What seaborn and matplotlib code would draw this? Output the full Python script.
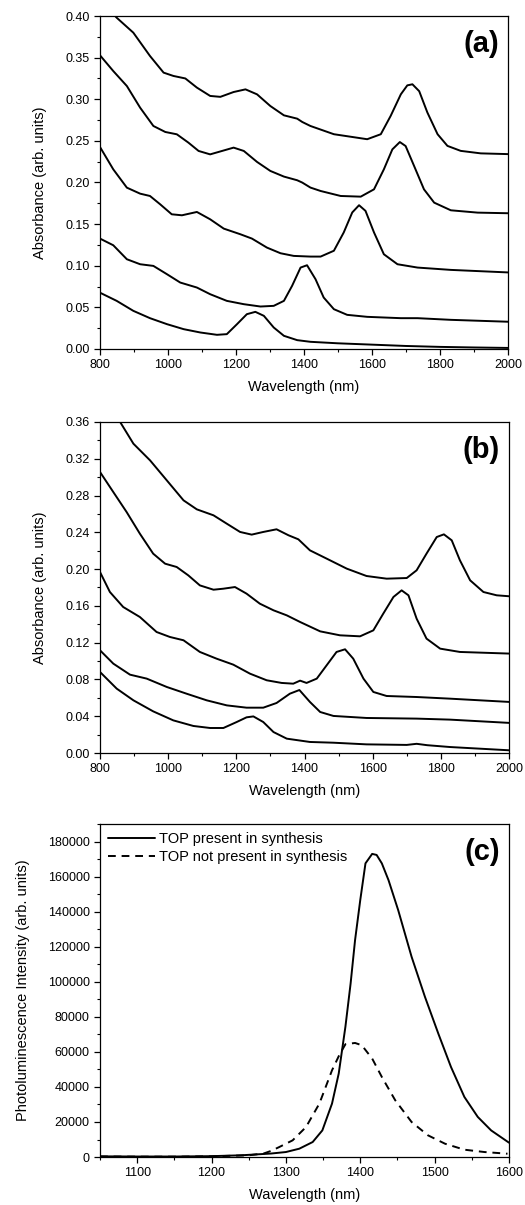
import numpy as np
import pandas as pd
import seaborn as sns
import matplotlib.pyplot as plt
from matplotlib.ticker import MultipleLocator, FormatStrFormatter

# ---- panel (a): absorbance spectra, bottom to top ----
a1_wl = [800, 849, 898, 947, 997, 1046, 1095, 1144, 1173, 1203, 1232, 1257, 1282, 1311, 1341, 1380, 1419, 1500, 1600, 1700, 1800, 1900, 2009]
a1_abs = [0.0676, 0.0578, 0.0458, 0.037, 0.0298, 0.0238, 0.0198, 0.017, 0.0178, 0.0298, 0.0418, 0.0446, 0.0398, 0.0258, 0.0158, 0.0106, 0.0086, 0.0068, 0.0052, 0.0036, 0.0025, 0.0018, 0.0012]

a2_wl = [800, 839, 879, 918, 957, 997, 1036, 1085, 1124, 1173, 1223, 1272, 1311, 1341, 1365, 1390, 1409, 1434, 1458, 1488, 1527, 1586, 1685, 1734, 1832, 2009]
a2_abs = [0.1326, 0.1246, 0.1078, 0.1018, 0.0998, 0.0898, 0.0798, 0.0738, 0.0658, 0.0578, 0.0538, 0.051, 0.0518, 0.0578, 0.0758, 0.0978, 0.1006, 0.0838, 0.0618, 0.0478, 0.041, 0.0386, 0.037, 0.037, 0.035, 0.0326]

a3_wl = [800, 839, 879, 918, 947, 977, 1011, 1041, 1085, 1124, 1164, 1213, 1247, 1291, 1331, 1370, 1419, 1449, 1488, 1517, 1542, 1562, 1581, 1606, 1635, 1675, 1734, 1832, 2009]
a3_abs = [0.2426, 0.2158, 0.1938, 0.1866, 0.1838, 0.1738, 0.1618, 0.1606, 0.1646, 0.1558, 0.1446, 0.1378, 0.1326, 0.1218, 0.115, 0.1118, 0.111, 0.111, 0.118, 0.140, 0.164, 0.1727, 0.1659, 0.140, 0.1138, 0.1018, 0.0978, 0.095, 0.0918]

a4_wl = [800, 839, 879, 918, 957, 992, 1026, 1060, 1090, 1124, 1159, 1193, 1223, 1262, 1301, 1341, 1380, 1395, 1419, 1449, 1508, 1567, 1606, 1635, 1660, 1682, 1699, 1724, 1753, 1783, 1832, 1911, 2009]
a4_abs = [0.3528, 0.3339, 0.3159, 0.2899, 0.2679, 0.2607, 0.2579, 0.2479, 0.2379, 0.2338, 0.2379, 0.2419, 0.2379, 0.2247, 0.2139, 0.2071, 0.2027, 0.1999, 0.1939, 0.1898, 0.1838, 0.183, 0.1918, 0.2158, 0.2398, 0.2486, 0.2438, 0.2198, 0.1918, 0.1758, 0.1666, 0.1638, 0.163]

a5_wl = [800, 849, 898, 947, 987, 1016, 1051, 1085, 1124, 1154, 1193, 1228, 1262, 1301, 1341, 1380, 1395, 1419, 1488, 1586, 1626, 1655, 1685, 1704, 1719, 1739, 1763, 1793, 1822, 1861, 1920, 2009]
a5_abs = [0.42, 0.398, 0.380, 0.352, 0.332, 0.328, 0.325, 0.314, 0.304, 0.3029, 0.3087, 0.3119, 0.3059, 0.2919, 0.2807, 0.2767, 0.2727, 0.2679, 0.258, 0.252, 0.258, 0.280, 0.306, 0.3167, 0.318, 0.3097, 0.2841, 0.258, 0.244, 0.238, 0.235, 0.234]

# ---- panel (b) ----
b1_wl = [800, 849, 898, 956, 1015, 1074, 1123, 1162, 1201, 1230, 1250, 1279, 1309, 1348, 1416, 1485, 1582, 1700, 1729, 1760, 1827, 2003]
b1_abs = [0.0881, 0.070, 0.0573, 0.0453, 0.0355, 0.0294, 0.0272, 0.0272, 0.0337, 0.0388, 0.0398, 0.0337, 0.0228, 0.0156, 0.012, 0.0112, 0.0094, 0.0088, 0.0100, 0.0085, 0.0065, 0.0029]

b2_wl = [800, 839, 888, 937, 996, 1054, 1113, 1172, 1230, 1279, 1318, 1357, 1385, 1416, 1446, 1485, 1582, 1729, 1827, 2003]
b2_abs = [0.1117, 0.0972, 0.0852, 0.0809, 0.0718, 0.0645, 0.0573, 0.0518, 0.0493, 0.0493, 0.0544, 0.0645, 0.0685, 0.0555, 0.0446, 0.0403, 0.0381, 0.0374, 0.0363, 0.0327]

b3_wl = [800, 829, 868, 917, 966, 1005, 1045, 1093, 1142, 1191, 1240, 1289, 1333, 1367, 1387, 1406, 1436, 1465, 1494, 1519, 1543, 1573, 1602, 1641, 1729, 1827, 2003]
b3_abs = [0.1968, 0.1751, 0.1588, 0.1479, 0.1316, 0.1262, 0.1226, 0.1099, 0.1026, 0.0961, 0.0863, 0.0791, 0.0762, 0.0754, 0.0787, 0.0762, 0.0809, 0.0954, 0.1099, 0.1128, 0.1026, 0.0809, 0.0664, 0.062, 0.0609, 0.0591, 0.0555]

b4_wl = [800, 839, 878, 917, 956, 991, 1025, 1059, 1093, 1133, 1162, 1196, 1230, 1269, 1309, 1348, 1387, 1446, 1504, 1563, 1602, 1631, 1661, 1685, 1705, 1729, 1758, 1798, 1856, 2003]
b4_abs = [0.3056, 0.2838, 0.2621, 0.2385, 0.2168, 0.2059, 0.2023, 0.1932, 0.1823, 0.1776, 0.1787, 0.1805, 0.1733, 0.1624, 0.1552, 0.1497, 0.1425, 0.1323, 0.128, 0.1269, 0.1334, 0.1515, 0.1697, 0.1769, 0.1715, 0.1461, 0.1244, 0.1135, 0.1099, 0.1081]

b5_wl = [800, 859, 898, 947, 996, 1045, 1084, 1133, 1172, 1211, 1245, 1279, 1318, 1353, 1382, 1416, 1465, 1524, 1582, 1641, 1700, 1729, 1758, 1788, 1809, 1832, 1856, 1886, 1925, 1964, 2003]
b5_abs = [0.385, 0.360, 0.3364, 0.3182, 0.2965, 0.2748, 0.265, 0.2585, 0.2494, 0.2404, 0.2375, 0.2404, 0.2433, 0.2368, 0.2324, 0.2204, 0.2114, 0.2005, 0.1925, 0.1896, 0.1903, 0.1987, 0.2168, 0.2349, 0.2378, 0.2313, 0.2096, 0.1878, 0.1751, 0.1715, 0.1704]

# ---- panel (c): photoluminescence ----
pl_top_wl = [1050, 1100, 1150, 1200, 1240, 1260, 1280, 1300, 1318, 1336, 1349, 1362, 1371, 1380, 1387, 1393, 1400, 1407, 1416, 1422, 1429, 1438, 1451, 1469, 1487, 1505, 1522, 1540, 1558, 1576, 1600]
pl_top = [400, 300, 300, 500, 1000, 1500, 2000, 2860, 4760, 8570, 15200, 30500, 47600, 74300, 99000, 123800, 146700, 167600, 173000, 172400, 167600, 158000, 140900, 114300, 91400, 70400, 51400, 34300, 22900, 15200, 8200]

pl_notop_wl = [1050, 1100, 1150, 1200, 1250, 1270, 1280, 1291, 1309, 1327, 1345, 1362, 1371, 1380, 1393, 1402, 1416, 1429, 1447, 1469, 1491, 1514, 1540, 1567, 1598]
pl_notop = [300, 200, 200, 400, 1000, 2000, 3500, 5700, 9520, 17100, 30500, 49500, 57500, 64400, 65100, 63800, 56200, 45700, 32400, 20000, 12400, 7600, 4190, 2860, 1900]

sns.set_style("ticks")
plt.rcParams["font.family"] = ["Liberation Sans", "DejaVu Sans"]
plt.rcParams["axes.linewidth"] = 0.9
plt.rcParams["axes.edgecolor"] = "black"
plt.rcParams["axes.labelcolor"] = "black"
plt.rcParams["text.color"] = "black"
plt.rcParams["xtick.color"] = "black"
plt.rcParams["ytick.color"] = "black"
plt.rcParams["lines.solid_joinstyle"] = "round"
plt.rcParams["lines.dash_joinstyle"] = "round"

fig = plt.figure(figsize=(5.25, 12.05), dpi=100)
ax_a = fig.add_axes([0.1905, 0.7104, 0.777, 0.2763])
ax_b = fig.add_axes([0.1905, 0.3751, 0.779, 0.2747])
ax_c = fig.add_axes([0.1905, 0.0398, 0.779, 0.2763])

lw = 1.4
for wl, ab in [(a1_wl, a1_abs), (a2_wl, a2_abs), (a3_wl, a3_abs), (a4_wl, a4_abs), (a5_wl, a5_abs)]:
    sns.lineplot(x=wl, y=ab, ax=ax_a, color="black", lw=lw, sort=False, estimator=None)
for wl, ab in [(b1_wl, b1_abs), (b2_wl, b2_abs), (b3_wl, b3_abs), (b4_wl, b4_abs), (b5_wl, b5_abs)]:
    sns.lineplot(x=wl, y=ab, ax=ax_b, color="black", lw=lw, sort=False, estimator=None)

sns.lineplot(x=pl_top_wl, y=pl_top, ax=ax_c, color="black", lw=lw, sort=False,
             estimator=None, label="TOP present in synthesis")
sns.lineplot(x=pl_notop_wl, y=pl_notop, ax=ax_c, color="black", lw=lw, sort=False,
             estimator=None, label="TOP not present in synthesis")
ax_c.lines[-1].set_dashes((4, 3))

ax_a.set_xlim(800, 2000)
ax_a.set_ylim(0, 0.40)
ax_a.yaxis.set_major_locator(MultipleLocator(0.05))
ax_a.yaxis.set_minor_locator(MultipleLocator(0.025))
ax_a.yaxis.set_major_formatter(FormatStrFormatter("%.2f"))

ax_b.set_xlim(800, 2000)
ax_b.set_ylim(0, 0.36)
ax_b.yaxis.set_major_locator(MultipleLocator(0.04))
ax_b.yaxis.set_minor_locator(MultipleLocator(0.02))
ax_b.yaxis.set_major_formatter(FormatStrFormatter("%.2f"))

for ax in (ax_a, ax_b):
    ax.xaxis.set_major_locator(MultipleLocator(200))
    ax.xaxis.set_minor_locator(MultipleLocator(100))
    ax.set_ylabel("Absorbance (arb. units)", fontsize=10.5, labelpad=13)

ax_c.set_xlim(1050, 1600)
ax_c.set_ylim(0, 190000)
ax_c.xaxis.set_major_locator(MultipleLocator(100))
ax_c.xaxis.set_minor_locator(MultipleLocator(50))
ax_c.yaxis.set_major_locator(MultipleLocator(20000))
ax_c.yaxis.set_minor_locator(MultipleLocator(10000))
ax_c.set_ylabel("Photoluminescence Intensity (arb. units)", fontsize=10.5, labelpad=13)
ax_c.legend(loc="upper left", frameon=False, fontsize=10.5, handlelength=3.2,
            handletextpad=0.3, borderaxespad=0.15, labelspacing=0.25)

for ax, tag in [(ax_a, "(a)"), (ax_b, "(b)"), (ax_c, "(c)")]:
    ax.set_xlabel("Wavelength (nm)", fontsize=10.5, labelpad=6)
    ax.tick_params(which="major", direction="out", length=4, width=0.9, labelsize=9)
    ax.tick_params(which="minor", direction="out", length=2.2, width=0.8)
    for s in ax.spines.values():
        s.set_visible(True)
    ax.text(0.978, 0.915, tag, transform=ax.transAxes, ha="right", va="center",
            fontsize=21, fontweight="bold")

fig.savefig("out.png", dpi=100)
